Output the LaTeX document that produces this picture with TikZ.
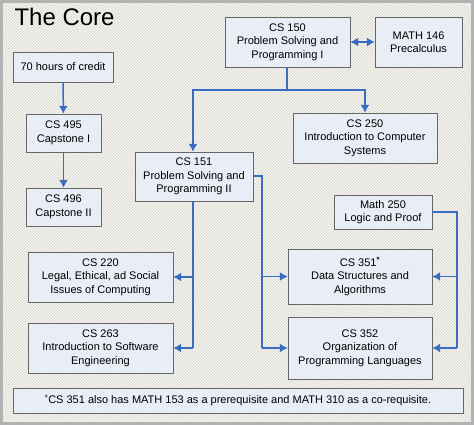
\documentclass[tikz,border=0pt]{standalone}
\usepackage{fontspec}
\setmainfont{Liberation Sans}
\usetikzlibrary{arrows.meta,patterns,shadows}
\definecolor{bgcol}{RGB}{224,224,216}
\definecolor{boxcol}{RGB}{232,237,246}
\definecolor{linecol}{RGB}{58,108,196}
\begin{document}
\begin{tikzpicture}[x=1pt,y=-1pt]
	\tikzset{
		course/.style={draw=gray!80!black, fill=boxcol, align=center, inner sep=0pt,
			font=\fontsize{11}{13.5}\selectfont,
			drop shadow={shadow xshift=1.2pt, shadow yshift=-1.2pt, fill=gray!90, opacity=1}},
		link/.style={draw=linecol, line width=1.5pt, -{Latex[length=8pt,width=9pt]}},
		wire/.style={draw=linecol, line width=1.5pt}
	}
	\useasboundingbox (0,0) rectangle (474,425);
	\fill[bgcol] (0,0) rectangle (474,425);
	\fill[pattern=north east lines, pattern color=white] (0,0) rectangle (474,425);
	\draw[gray!60, line width=3pt] (1.5,1.5) rectangle (472.5,423.5);
	
	\node[anchor=base west, font=\fontsize{24}{26}\selectfont] (title) at (11,26) {The Core};
	
	% left column
	\node[course, minimum width=100, minimum height=30] (credit) at (63,67) {70 hours of credit};
	\node[course, minimum width=75, minimum height=38] (cs495) at (63.5,133) {CS 495\\Capstone I};
	\node[course, minimum width=75, minimum height=38] (cs496) at (63.5,207) {CS 496\\Capstone II};
	
	% top
	\node[course, minimum width=125, minimum height=50] (cs150) at (287.5,42) {CS 150\\Problem Solving and\\Programming I};
	\node[course, minimum width=87, minimum height=50] (math146) at (418.5,42) {MATH 146\\Precalculus};
	\node[course, minimum width=144, minimum height=50] (cs250) at (365,138) {CS 250\\Introduction to Computer\\Systems};
	\node[course, minimum width=118, minimum height=49] (cs151) at (194,176.5) {CS 151\\Problem Solving and\\Programming II};
	
	% lower
	\node[course, minimum width=145, minimum height=50] (cs220) at (100.5,277) {CS 220\\Legal, Ethical, ad Social\\Issues of Computing};
	\node[course, minimum width=145, minimum height=50] (cs263) at (100.5,348) {CS 263\\Introduction to Software\\Engineering};
	\node[course, minimum width=98, minimum height=34] (math250) at (383,212) {Math 250\\Logic and Proof};
	\node[course, minimum width=144, minimum height=55] (cs351) at (360,276.5) {CS 351\textsuperscript{\textbf{*}}\\Data Structures and\\Algorithms};
	\node[course, minimum width=144, minimum height=62] (cs352) at (360,348) {CS 352\\Organization of\\Programming Languages};
	
	\node[course, minimum width=450, minimum height=25] (note) at (238,400.5) {\textsuperscript{*}CS 351 also has MATH 153 as a prerequisite and MATH 310 as a co-requisite.};
	
	\coordinate (split) at (287,90);
	\coordinate (down) at (193,348);
	\coordinate (mid) at (262,176);
	\coordinate (right) at (457,212);
	
	\draw[link] (credit) -- (cs495);
	\draw[link] (cs495) -- (cs496);
	\draw[link, {Latex[length=8pt,width=9pt]}-{Latex[length=8pt,width=9pt]}] (cs150) -- (math146);
	
	\draw[wire] (cs150.south -| split) -- (split);
	\draw[link] (split) -| (cs151.north -| down);
	\draw[link] (split) -| (cs250.north);
	
	\draw[wire] (cs151.south -| down) -- (down);
	\draw[link] (down |- cs220.east) -- (cs220.east);
	\draw[link] (down) -- (cs263.east);
	
	\draw[wire] (cs151.east |- mid) -- (mid) -- (mid |- cs352.west);
	\draw[link] (mid |- cs351.west) -- (cs351.west);
	\draw[link] (mid |- cs352.west) -- (cs352.west);
	
	\draw[wire] (math250.east) -- (right) -- (right |- cs352.east);
	\draw[link] (right |- cs351.east) -- (cs351.east);
	\draw[link] (right |- cs352.east) -- (cs352.east);
\end{tikzpicture}
\end{document}
